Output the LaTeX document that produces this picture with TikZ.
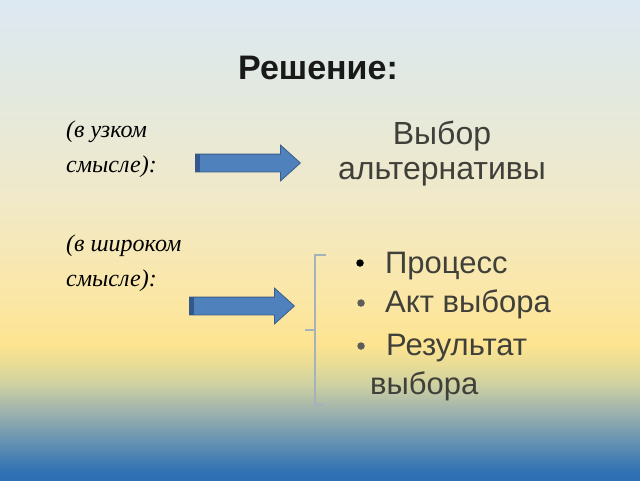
\documentclass[tikz,border=0pt]{standalone}
\usepackage{fontspec}
\setmainfont{Liberation Sans}
\newfontfamily\ruserif{Liberation Serif}
\usetikzlibrary{shapes.arrows}

% Define colors
\definecolor{bgtop}{RGB}{220,232,242}
\definecolor{bgpale}{RGB}{228,233,222}
\definecolor{bgcream}{RGB}{241,233,200}
\definecolor{bgyellow}{RGB}{251,231,165}
\definecolor{bgsun}{RGB}{253,228,145}
\definecolor{bgolive}{RGB}{232,220,150}
\definecolor{bgsage}{RGB}{205,208,162}
\definecolor{bgteal}{RGB}{160,180,172}
\definecolor{bgsteel}{RGB}{105,148,178}
\definecolor{bgblue}{RGB}{50,115,180}
\definecolor{bgdeep}{RGB}{45,110,180}
\definecolor{arrowfill}{RGB}{79,129,189}
\definecolor{arrowedge}{RGB}{56,93,138}
\definecolor{arrowdark}{RGB}{52,88,140}
\definecolor{textgray}{RGB}{64,64,58}
\definecolor{bracketgray}{RGB}{165,178,190}

\pgfdeclareverticalshading{slidebg}{100bp}{%
  color(0bp)=(bgdeep); color(25bp)=(bgdeep); color(26bp)=(bgblue);
  color(29.2bp)=(bgsteel); color(32.3bp)=(bgteal); color(34.9bp)=(bgsage);
  color(37bp)=(bgolive); color(39.1bp)=(bgsun); color(43.8bp)=(bgyellow);
  color(54.2bp)=(bgcream); color(64.6bp)=(bgpale); color(75bp)=(bgtop);
  color(100bp)=(bgtop)}

\tikzset{
  sense/.style={anchor=base west, font=\ruserif\itshape\fontsize{24}{35}\selectfont,
    align=left, inner sep=0pt, text=black},
  answer/.style={font=\fontsize{31}{35}\selectfont, text=textgray, inner sep=0pt},
  blockarrow/.style={single arrow, fill=arrowfill, draw=arrowedge, line width=0.8pt,
    minimum height=105pt, inner sep=8.5pt, single arrow head extend=9pt,
    single arrow tip angle=84, anchor=west},
  bullet/.style={circle, fill=textgray!85, inner sep=0pt, minimum size=7.5pt}
}

\begin{document}
\begin{tikzpicture}[x=1pt,y=-1pt]

  % Background
  \shade[shading=slidebg] (0,0) rectangle (640,480);
  \useasboundingbox (0,0) rectangle (640,480);

  % Title
  \node[font=\bfseries\fontsize{34}{38}\selectfont, text=black!90, anchor=base]
    (title) at (318,79) {Решение:};

  % Left labels
  \node[sense] (narrow) at (66,172) {(в узком\\смысле):};
  \node[sense] (broad) at (66,286) {(в широком\\смысле):};

  % Block arrows
  \node[blockarrow] (arrA) at (195,163) {};
  \node[blockarrow] (arrB) at (189,306) {};
  \fill[arrowdark] (arrA.after tail) rectangle ([xshift=5pt]arrA.before tail);
  \fill[arrowdark] (arrB.after tail) rectangle ([xshift=5pt]arrB.before tail);

  % Narrow answer
  \node[answer, font=\fontsize{32}{35}\selectfont, align=center, anchor=base]
    (choice) at (442,179) {Выбор\\альтернативы};

  % Bracket
  \coordinate (brtop) at (315,255);
  \coordinate (brbot) at (315,405);
  \draw[bracketgray, line width=1.2pt]
    ([xshift=11pt]brtop) -- (brtop) -- (brbot) -- ([xshift=10pt]brbot);
  \draw[bracketgray, line width=1.2pt] (315,330) -- (305,330);

  % Broad answers
  \node[answer, anchor=base west] (proc) at (385,273) {Процесс};
  \node[answer, anchor=base west] (act) at (385,312) {Акт выбора};
  \node[answer, anchor=base west] (res) at (386,355) {Результат};
  \node[answer, anchor=base west] (res2) at (370,394) {выбора};
  \node[bullet, fill=black] (b1) at (360,263) {};
  \node[bullet] (b2) at (361,303) {};
  \node[bullet] (b3) at (361,346) {};

\end{tikzpicture}
\end{document}
